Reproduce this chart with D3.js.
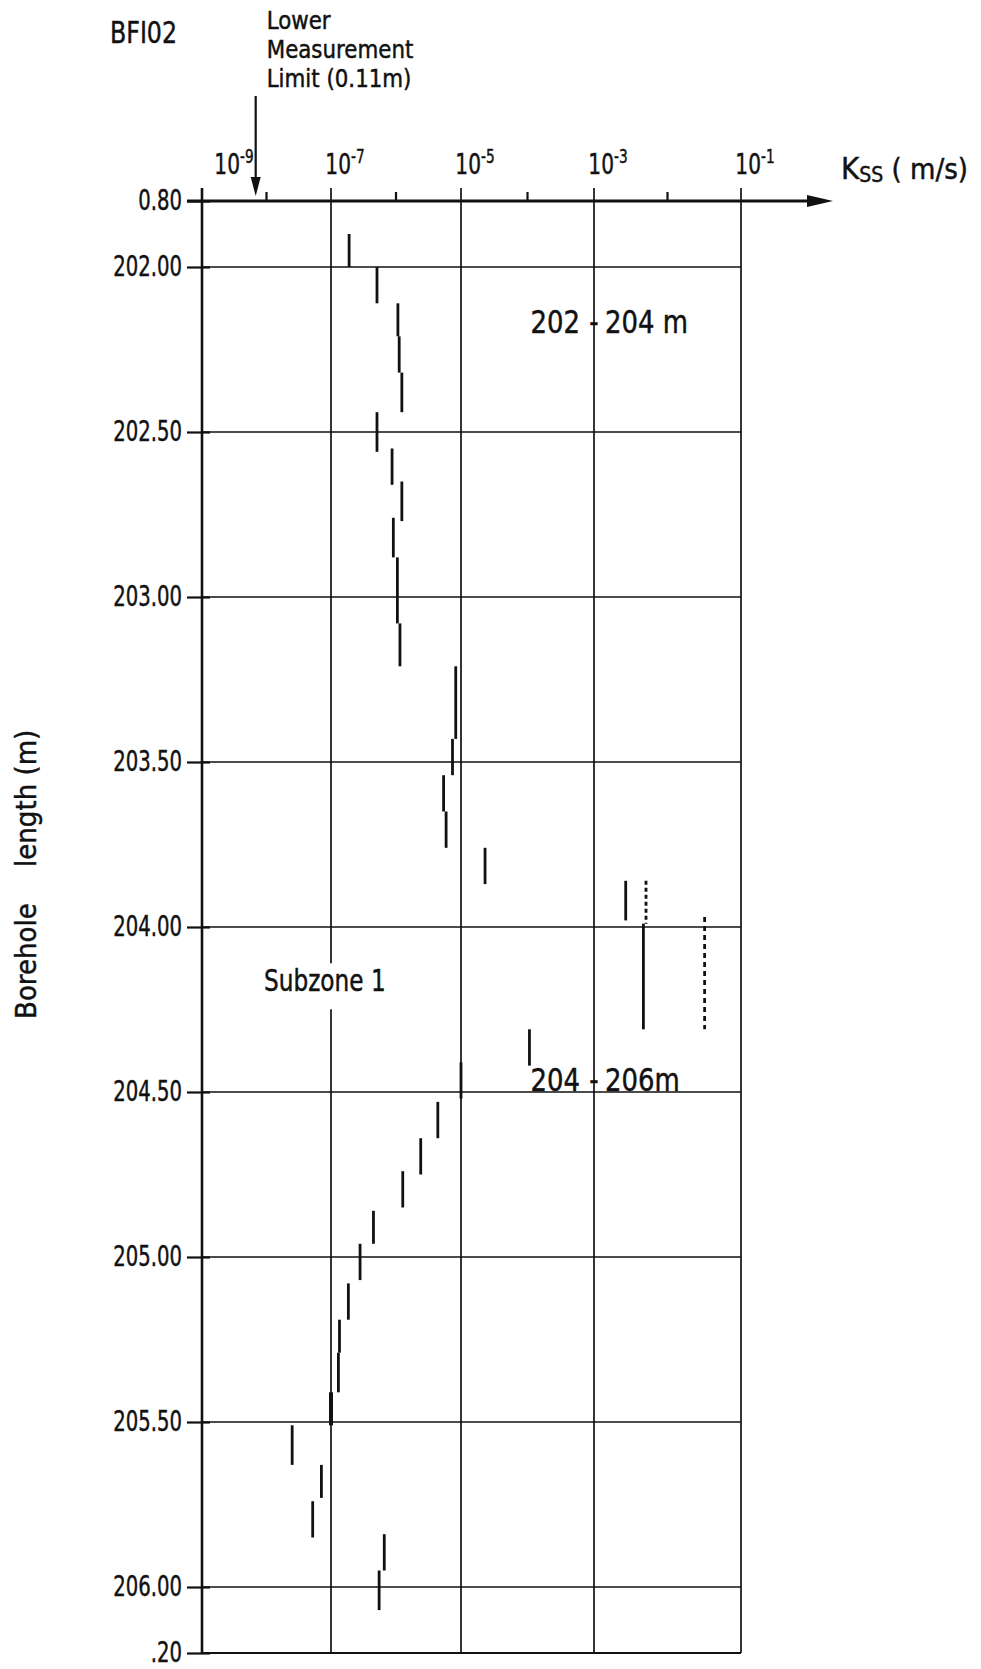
<!DOCTYPE html>
<html>
<head>
<meta charset="utf-8">
<script src="https://cdn.jsdelivr.net/npm/d3@7"></script>
<style>
  body { margin: 0; background: #fff; }
  svg text { font-family: "DejaVu Sans Condensed", "DejaVu Sans", sans-serif; fill: #111; stroke: #111; stroke-width: 0.45; }
</style>
</head>
<body>
<div id="board"></div>
<script>
'use strict';

// depth ticks (m) - top one is written "0.80" and bottom ".20" on the original
var depthTicks = [201.8, 202.0, 202.5, 203.0, 203.5, 204.0, 204.5, 205.0, 205.5, 206.0, 206.2];
var depthTickLabels = ['0.80', '202.00', '202.50', '203.00', '203.50', '204.00', '204.50', '205.00', '205.50', '206.00', '.20'];

// K axis
var kTicks = [1e-9, 1e-7, 1e-5, 1e-3, 1e-1];
var kTickExponents = ['-9', '-7', '-5', '-3', '-1'];
var kMinorTicks = [1e-8, 1e-6, 1e-4, 1e-2];
var lowerLimit = 6.8e-9;

// measured sections: from / to depth (m), K (m/s), line type
var segFrom = [201.90, 202.00, 202.11, 202.21, 202.32, 202.44, 202.55, 202.65, 202.76, 202.88, 203.08,
               203.21, 203.43, 203.54, 203.65, 203.76, 203.86, 203.86, 203.99, 203.97, 204.31, 204.41,
               204.53, 204.64, 204.74, 204.86, 204.96, 205.08, 205.19, 205.29, 205.41, 205.51, 205.63,
               205.74, 205.84, 205.95];
var segTo   = [202.00, 202.11, 202.21, 202.32, 202.44, 202.56, 202.66, 202.77, 202.88, 203.08, 203.21,
               203.43, 203.54, 203.65, 203.76, 203.87, 203.98, 203.99, 204.31, 204.31, 204.42, 204.52,
               204.64, 204.75, 204.85, 204.96, 205.07, 205.19, 205.29, 205.41, 205.51, 205.63, 205.73,
               205.85, 205.95, 206.07];
var segK    = [1.9e-7, 5.1e-7, 1.07e-6, 1.12e-6, 1.23e-6, 5.1e-7, 8.7e-7, 1.23e-6, 9.1e-7, 1.05e-6, 1.15e-6,
               8.3e-6, 7.4e-6, 5.4e-6, 5.9e-6, 2.3e-5, 2.7e-3, 5.1e-3, 4.7e-3, 3.2e-2, 1.07e-4, 1.0e-5,
               4.4e-6, 2.4e-6, 1.27e-6, 4.5e-7, 2.8e-7, 1.85e-7, 1.35e-7, 1.3e-7, 1.0e-7, 2.5e-8, 7.1e-8,
               5.2e-8, 6.6e-7, 5.5e-7];
var segLine = ['s', 's', 's', 's', 's', 's', 's', 's', 's', 's', 's',
               's', 's', 's', 's', 's', 's', 'dash', 's', 'dot', 's', 's',
               's', 's', 's', 's', 's', 's', 's', 's', 'bold', 's', 's',
               's', 's', 's'];

var W = 981, H = 1669;

// hand drawn axis: decades are not quite evenly spaced
var x = d3.scaleLog().domain(kTicks).range([202, 331, 461, 594, 741]);
var y = d3.scaleLinear().domain([201.8, 206.2]).range([201, 1653]);

var x0 = x(1e-9), x1 = x(1e-1), y0 = y(201.8), y1 = y(206.2);

var svg = d3.select('#board')
    .append('svg')
    .attr('width', W)
    .attr('height', H);

// text squeezed sideways to look like the narrow stencil lettering
function label(px, py, size, sx, anchor) {
    return svg.append('text')
        .attr('transform', 'translate(' + px + ',' + py + ') scale(' + sx + ',1)')
        .attr('text-anchor', anchor || 'start')
        .attr('font-size', size);
}

// horizontal grid
svg.append('g')
    .selectAll('line')
    .data(depthTicks.slice(1))
    .enter()
    .append('line')
    .attr('x1', x0).attr('x2', x1)
    .attr('y1', function(d) { return y(d); })
    .attr('y2', function(d) { return y(d); })
    .attr('stroke', '#111')
    .attr('stroke-width', function(d) { return d === 206.2 ? 2.2 : 1.7; });

// vertical grid, sticking up through the axis as major ticks
svg.append('g')
    .selectAll('line')
    .data(kTicks)
    .enter()
    .append('line')
    .attr('x1', function(d) { return x(d); })
    .attr('x2', function(d) { return x(d); })
    .attr('y1', y0 - 13).attr('y2', y1)
    .attr('stroke', '#111')
    .attr('stroke-width', function(d) { return d === 1e-9 ? 2.6 : 1.7; });

// minor ticks
svg.append('g')
    .selectAll('line')
    .data(kMinorTicks)
    .enter()
    .append('line')
    .attr('x1', function(d) { return x(d); })
    .attr('x2', function(d) { return x(d); })
    .attr('y1', y0 - 9).attr('y2', y0)
    .attr('stroke', '#111')
    .attr('stroke-width', 2.2);

// top axis with arrow
var arrowTip = x1 + 92;
svg.append('line')
    .attr('x1', x0 - 15).attr('x2', arrowTip - 10)
    .attr('y1', y0).attr('y2', y0)
    .attr('stroke', '#111')
    .attr('stroke-width', 2.8);
svg.append('path')
    .attr('d', 'M' + arrowTip + ',' + y0 + 'L' + (arrowTip - 26) + ',' + (y0 - 6) + 'L' + (arrowTip - 26) + ',' + (y0 + 6) + 'Z')
    .attr('fill', '#111');

// depth axis ticks + labels
var SY = 0.78;
var yAxis = d3.axisLeft(y)
    .tickValues(depthTicks)
    .tickFormat(function(d, i) { return depthTickLabels[i]; })
    .tickSizeInner(15)
    .tickSizeOuter(0)
    .tickPadding(5);

var gy = svg.append('g')
    .attr('transform', 'translate(' + x0 + ',0)')
    .call(yAxis)
    .attr('font-family', null)
    .attr('font-size', null);
gy.select('.domain').remove();
gy.selectAll('.tick line').attr('x1', 8).attr('stroke', '#111').attr('stroke-width', 2.2);
gy.selectAll('.tick text')
    .attr('font-size', 28)
    .attr('fill', '#111')
    .attr('x', -20 / SY)
    .attr('transform', 'scale(' + SY + ',1)');

// K labels 10^n (the first one sits clear of the left axis)
kTicks.forEach(function(k, i) {
    var t = label(x(k) + (i === 0 ? 32 : 14), y0 - 27, 28, 0.8, 'middle');
    t.append('tspan').text('10');
    t.append('tspan').attr('dy', -11).attr('font-size', 19).text(kTickExponents[i]);
});

// axis title K_ss (m/s)
var kt = label(arrowTip + 8, y0 - 22, 31, 1);
kt.append('tspan').text('K');
kt.append('tspan').attr('font-size', 21).attr('dy', 3).text('SS');
kt.append('tspan').attr('dy', -3).attr('font-size', 29).text(' ( m/s)');

// vertical title
svg.append('text')
    .attr('transform', 'translate(36,1019) rotate(-90)')
    .attr('font-size', 29)
    .text('Borehole');
svg.append('text')
    .attr('transform', 'translate(36,867) rotate(-90)')
    .attr('font-size', 29)
    .text('length (m)');

// heading
label(110, 43, 31, 0.85).text('BFI02');

['Lower', 'Measurement', 'Limit (0.11m)'].forEach(function(s, i) {
    label(x(lowerLimit) + 11, 29 + i * 29, 25, 0.95).text(s);
});

// lower limit arrow
svg.append('line')
    .attr('x1', x(lowerLimit)).attr('x2', x(lowerLimit))
    .attr('y1', 96).attr('y2', y0 - 16)
    .attr('stroke', '#111')
    .attr('stroke-width', 2.2);
svg.append('path')
    .attr('d', 'M' + (x(lowerLimit) - 5) + ',' + (y0 - 24) + 'L' + (x(lowerLimit) + 5) + ',' + (y0 - 24) + 'L' + x(lowerLimit) + ',' + (y0 - 5) + 'Z')
    .attr('fill', '#111');

// subzone label with white backing over the grid line
svg.append('rect')
    .attr('x', 262).attr('y', y(204.11))
    .attr('width', 124).attr('height', 46)
    .attr('fill', '#fff');
label(264, y(204.195), 30, 0.86).text('Subzone 1');

// interval labels, dash sitting on the 10^-3 line
function rangeLabel(from, to, depth) {
    label(x(1e-3) - 14, y(depth), 32, 0.9, 'end').text(from);
    label(x(1e-3), y(depth), 32, 0.9, 'middle').text('-');
    label(x(1e-3) + 11, y(depth), 32, 0.9).text(to);
}
rangeLabel('202', '204 m', 202.2);
rangeLabel('204', '206m', 204.497);

// measured sections
svg.append('g')
    .selectAll('line')
    .data(segK)
    .enter()
    .append('line')
    .attr('x1', function(d) { return x(d); })
    .attr('x2', function(d) { return x(d); })
    .attr('y1', function(d, i) { return y(segFrom[i]); })
    .attr('y2', function(d, i) { return y(segTo[i]); })
    .attr('stroke', '#111')
    .attr('stroke-width', function(d, i) { return segLine[i] === 'bold' ? 4 : 2.8; })
    .attr('stroke-dasharray', function(d, i) {
        if (segLine[i] === 'dash') return '4,3';
        if (segLine[i] === 'dot') return '5,4';
        return null;
    });
</script>
</body>
</html>
